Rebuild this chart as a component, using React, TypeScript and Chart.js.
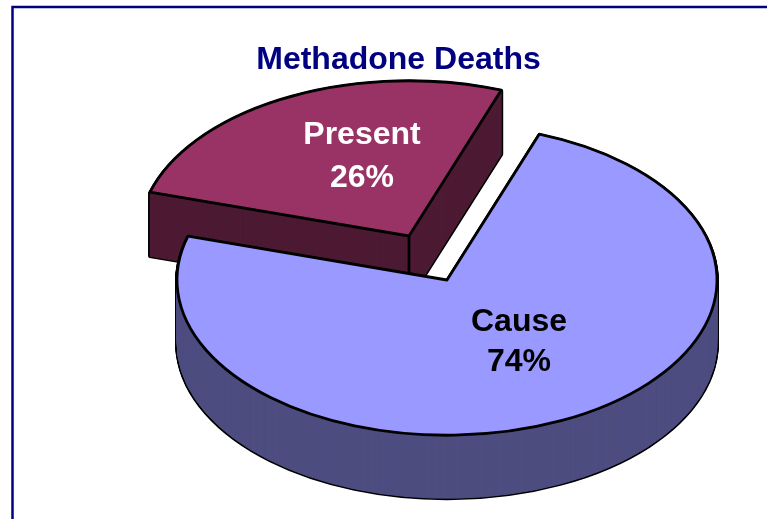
import React, { useEffect, useRef } from "react";
import { Chart, registerables } from "chart.js";

Chart.register(...registerables);

const categories = ["Cause", "Present"];
const percentages = [74, 26];
const topColors = ["#9999FF", "#993366"];
const wallColors = ["#4D4D80", "#4D1A33"];
const labelColors = ["#000000", "#FFFFFF"];
const chartTitle = "Methadone Deaths";

const CENTER = { x: 447, y: 280 };
const TILT = 0.575;
const DEPTHS = [63, 64];
const EXPLODE = [
  { x: 0, y: 0 },
  { x: -38, y: -44 },
];
const LABEL_POS = [
  { x: 519, y: 322, gap: 40 },
  { x: 362, y: 135, gap: 43 },
];
const FONT = "bold 32px 'Liberation Sans', Arial, sans-serif";

function slicePath(ctx: CanvasRenderingContext2D, cx: number, cy: number, r: number, a0: number, a1: number) {
  ctx.beginPath();
  ctx.moveTo(cx, cy);
  ctx.ellipse(cx, cy, r, r * TILT, 0, a0, a1);
  ctx.closePath();
}

const pie3d = {
  id: "pie3d",
  beforeDatasetsDraw(chart: any) {
    const ctx: CanvasRenderingContext2D = chart.ctx;
    const arcs = chart.getDatasetMeta(0).data;
    // back slice first, front slice on top
    [1, 0].forEach((i) => {
      const el = arcs[i];
      const { x, y, startAngle, endAngle, outerRadius } = el.getProps(["x", "y", "startAngle", "endAngle", "outerRadius"], true);
      const cx = CENTER.x + EXPLODE[i].x;
      const cy = CENTER.y + EXPLODE[i].y;
      const depth = DEPTHS[i];
      ctx.save();
      ctx.lineJoin = "round";
      ctx.strokeStyle = "#000000";
      ctx.lineWidth = 3.8;
      for (let d = depth; d >= 1; d -= 1) {
        slicePath(ctx, cx, cy + d, outerRadius, startAngle, endAngle);
        ctx.stroke();
      }
      ctx.fillStyle = wallColors[i];
      ctx.strokeStyle = wallColors[i];
      ctx.lineWidth = 1;
      for (let d = depth; d >= 1; d -= 1) {
        slicePath(ctx, cx, cy + d, outerRadius, startAngle, endAngle);
        ctx.fill();
        ctx.stroke();
      }
      ctx.strokeStyle = "#000000";
      ctx.lineWidth = 2.8;
      // vertical edge at the apex of the exploded slice
      if (i === 1) {
        ctx.beginPath();
        ctx.moveTo(cx, cy);
        ctx.lineTo(cx, cy + depth);
        ctx.stroke();
      }
      ctx.save();
      ctx.translate(cx, cy);
      ctx.scale(1, TILT);
      ctx.translate(-x, -y);
      el.draw(ctx);
      ctx.restore();
      slicePath(ctx, cx, cy, outerRadius, startAngle, endAngle);
      ctx.stroke();
      ctx.restore();
    });

    ctx.save();
    ctx.font = FONT;
    ctx.textAlign = "center";
    ctx.textBaseline = "middle";
    categories.forEach((name, i) => {
      const p = LABEL_POS[i];
      ctx.fillStyle = labelColors[i];
      ctx.fillText(name, p.x, p.y);
      ctx.fillText(`${percentages[i]}%`, p.x, p.y + p.gap);
    });
    ctx.restore();
    return false;
  },
};

const frame = {
  id: "frame",
  beforeDraw(chart: any) {
    const ctx: CanvasRenderingContext2D = chart.ctx;
    ctx.save();
    ctx.fillStyle = "#FFFFFF";
    ctx.fillRect(0, 0, chart.width, chart.height);
    ctx.strokeStyle = "#000080";
    ctx.lineWidth = 2.5;
    ctx.beginPath();
    ctx.moveTo(12.5, chart.height);
    ctx.lineTo(12.5, 7);
    ctx.lineTo(chart.width, 7);
    ctx.stroke();
    ctx.restore();
  },
};

export default function App() {
  const ref = useRef<HTMLCanvasElement>(null);
  useEffect(() => {
    const chart = new Chart(ref.current!, {
      type: "pie",
      data: {
        labels: categories,
        datasets: [{ data: percentages, backgroundColor: topColors, borderWidth: 0 }],
      },
      options: {
        animation: false,
        responsive: false,
        radius: 270,
        rotation: 20,
        layout: { padding: { left: 30, top: 41 } },
        plugins: {
          legend: { display: false },
          tooltip: { enabled: false },
          title: {
            display: true,
            text: chartTitle,
            color: "#000080",
            font: { family: "'Liberation Sans', Arial, sans-serif", size: 32, weight: "bold" },
            padding: 0,
          },
        },
      },
      plugins: [frame, pie3d],
    } as any);
    return () => chart.destroy();
  }, []);
  return (
    <canvas
      ref={ref}
      width={767}
      height={519}
      style={{ position: "fixed", left: 0, top: 0, display: "block" }}
    />
  );
}
